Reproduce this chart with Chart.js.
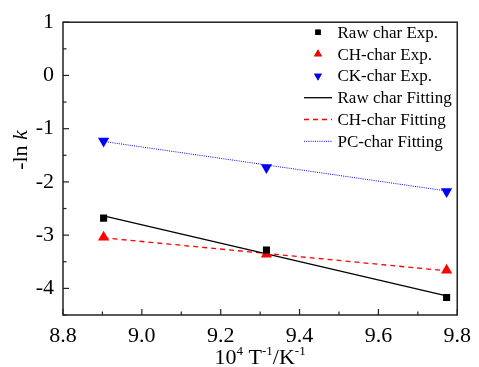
<!DOCTYPE html>
<html>
<head>
<meta charset="utf-8">
<script src="https://cdn.jsdelivr.net/npm/chart.js@4/dist/chart.umd.min.js"></script>
<style>
html,body{margin:0;padding:0;background:#fff;}
#wrap{width:479px;height:367px;position:relative;}
</style>
</head>
<body>
<div id="wrap"><canvas id="c" width="479" height="367"></canvas></div>
<script>
// Data
const xValues = [8.903, 9.316, 9.773];
const rawExp = [-2.68, -3.28, -4.17];
const chExp = [-3.04, -3.36, -3.66];
const ckExp = [-1.23, -1.73, -2.18];
const fitX = [8.903, 9.773];
const rawFit = [-2.64, -4.14];
const chFit = [-3.05, -3.67];
const pcFit = [-1.24, -2.17];
const seriesLabels = ["Raw char Exp.", "CH-char Exp.", "CK-char Exp.", "Raw char Fitting", "CH-char Fitting", "PC-char Fitting"];
const xTickLabels = ["8.8", "9.0", "9.2", "9.4", "9.6", "9.8"];
const yTickLabels = ["1", "0", "-1", "-2", "-3", "-4"];

const pts = (xs, ys) => xs.map((x, i) => ({x: x, y: ys[i]}));
const FONT = "Liberation Serif";

const datasets = [
  {label: seriesLabels[0], data: pts(xValues, rawExp), showLine: false, pointStyle: 'rect', pointRadius: 5, backgroundColor: '#000', borderColor: '#000', borderWidth: 0, order: 0},
  {label: seriesLabels[1], data: pts(xValues, chExp), showLine: false, pointStyle: 'triangle', pointRadius: 6.5, backgroundColor: '#ff0000', borderColor: '#ff0000', borderWidth: 0, order: 0},
  {label: seriesLabels[2], data: pts(xValues, ckExp), showLine: false, pointStyle: 'triangle', pointRotation: 180, pointRadius: 6.5, backgroundColor: '#0000ff', borderColor: '#0000ff', borderWidth: 0, order: 0},
  {label: seriesLabels[3], data: pts(fitX, rawFit), showLine: true, pointRadius: 0, borderColor: '#000', borderWidth: 1.3, order: 1},
  {label: seriesLabels[4], data: pts(fitX, chFit), showLine: true, pointRadius: 0, borderColor: '#ff0000', borderWidth: 1.3, borderDash: [5, 4], order: 1},
  {label: seriesLabels[5], data: pts(fitX, pcFit), showLine: true, pointRadius: 0, borderColor: '#0000ff', borderWidth: 1, borderDash: [1, 1.2], order: 1}
];

const framePlugin = {
  id: 'frame',
  afterDraw(chart) {
    const ctx = chart.ctx;
    const a = chart.chartArea;
    const xs = chart.scales.x, ys = chart.scales.y;
    ctx.save();
    // box
    ctx.strokeStyle = '#222';
    ctx.lineWidth = 1.5;
    ctx.strokeRect(a.left, a.top, a.right - a.left, a.bottom - a.top);
    // ticks inward
    ctx.lineWidth = 1.2;
    xs.ticks.forEach(t => {
      const p = xs.getPixelForValue(t.value);
      const major = Math.abs(Math.round(t.value * 10) % 2) === 0;
      const len = major ? 6 : 3.5;
      ctx.beginPath(); ctx.moveTo(p, a.bottom); ctx.lineTo(p, a.bottom - len); ctx.stroke();
    });
    ys.ticks.forEach(t => {
      const p = ys.getPixelForValue(t.value);
      const major = Math.abs(t.value - Math.round(t.value)) < 1e-6;
      const len = major ? 6 : 3.5;
      ctx.beginPath(); ctx.moveTo(a.left, p); ctx.lineTo(a.left + len, p); ctx.stroke();
    });
    // x title with superscripts
    ctx.fillStyle = '#000';
    ctx.textBaseline = 'alphabetic';
    const parts = [["10", 0], ["4", 1], [" T", 0], ["-1", 1], ["/K", 0], ["-1", 1]];
    const big = "22px '" + FONT + "'", small = "13px '" + FONT + "'";
    let w = 0;
    parts.forEach(p => { ctx.font = p[1] ? small : big; w += ctx.measureText(p[0]).width; });
    let x = (a.left + a.right) / 2 - w / 2;
    const base = 364;
    parts.forEach(p => {
      ctx.font = p[1] ? small : big;
      ctx.fillText(p[0], x, p[1] ? base - 9 : base);
      x += ctx.measureText(p[0]).width;
    });
    // y title
    ctx.save();
    ctx.translate(27, 150);
    ctx.rotate(-Math.PI / 2);
    ctx.font = big;
    const t1 = "-ln ";
    const w1 = ctx.measureText(t1).width;
    const it = "italic 22px '" + FONT + "'";
    ctx.font = it;
    const w2 = ctx.measureText("k").width;
    let sx = -(w1 + w2) / 2;
    ctx.font = big;
    ctx.fillText(t1, sx, 0);
    ctx.font = it;
    ctx.fillText("k", sx + w1, 0);
    ctx.restore();
    // legend
    const rowY0 = 32.3, step = 21.8;
    const mx = 318, lx0 = 304, lx1 = 332, tx = 337.5;
    ctx.font = "17px '" + FONT + "'";
    ctx.textBaseline = 'middle';
    chart.data.datasets.forEach((ds, i) => {
      const y = rowY0 + i * step;
      if (ds.showLine) {
        ctx.save();
        ctx.strokeStyle = ds.borderColor;
        ctx.lineWidth = ds.borderWidth;
        ctx.setLineDash(ds.borderDash || []);
        ctx.beginPath(); ctx.moveTo(lx0, y); ctx.lineTo(lx1, y); ctx.stroke();
        ctx.restore();
      } else {
        Chart.helpers.drawPoint(ctx, {pointStyle: ds.pointStyle, rotation: ds.pointRotation || 0, radius: ds.pointStyle === 'rect' ? 3.8 : 4.5, borderWidth: 0}, mx, y);
        ctx.fillStyle = ds.backgroundColor;
        ctx.fill();
      }
      ctx.fillStyle = '#000';
      ctx.fillText(ds.label, tx, y + 1);
    });
    ctx.restore();
  }
};

new Chart(document.getElementById('c'), {
  type: 'scatter',
  data: {datasets: datasets},
  options: {
    responsive: false,
    animation: false,
    devicePixelRatio: 1,
    layout: {padding: {top: 16, right: 13, left: 0, bottom: 0}},
    plugins: {legend: {display: false}, tooltip: {enabled: false}},
    scales: {
      x: {
        type: 'linear', min: 8.8, max: 9.8,
        grid: {display: false, drawTicks: false},
        border: {display: false},
        ticks: {
          stepSize: 0.1, padding: 8, color: '#000', font: {family: FONT, size: 22},
          maxRotation: 0, autoSkip: false,
          callback: (v) => { const k = Math.round((v - 8.8) * 10); return k % 2 === 0 ? xTickLabels[k / 2] : ''; }
        },
        afterFit: (s) => { s.height = 52; }
      },
      y: {
        type: 'linear', min: -4.5, max: 1,
        grid: {display: false, drawTicks: false},
        border: {display: false},
        ticks: {
          stepSize: 0.5, padding: 9, color: '#000', font: {family: FONT, size: 22},
          autoSkip: false,
          callback: (v) => { if (Math.abs(v - Math.round(v)) > 1e-6) return ''; return yTickLabels[1 - Math.round(v)]; }
        },
        afterFit: (s) => { s.width = 63; }
      }
    }
  },
  plugins: [framePlugin]
});
</script>
</body>
</html>
